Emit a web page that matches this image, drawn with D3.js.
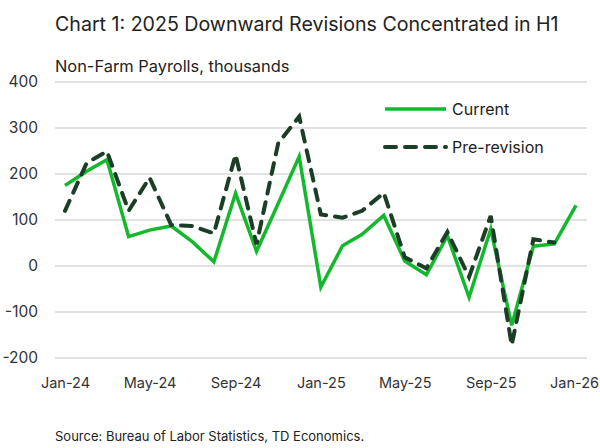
<!DOCTYPE html>
<html>
<head>
<meta charset="utf-8">
<script src="https://cdn.jsdelivr.net/npm/d3@7"></script>
<style>
  body { margin: 0; background: #fff; }
  svg { display: block; font-family: Inter, "Noto Sans", sans-serif; }
</style>
</head>
<body>
<svg id="chart" width="600" height="448"></svg>
<script>
const months = ["2024-01","2024-02","2024-03","2024-04","2024-05","2024-06","2024-07","2024-08","2024-09","2024-10","2024-11","2024-12",
                "2025-01","2025-02","2025-03","2025-04","2025-05","2025-06","2025-07","2025-08","2025-09","2025-10","2025-11","2025-12","2026-01"];
const current = [175, 206, 231, 64, 78, 87, 53, 9, 158, 32, 136, 238,
                 -46, 44, 69, 110, 11, -19, 66, -68, 80, -129, 43, 48, 132];
const preRevision = [120, 224, 249, 120, 192, 89, 87, 71, 242, 47, 267, 325,
                     112, 105, 120, 159, 19, -5, 74, -24, 109, -172, 58, 51, null];
const yTicks = [-200, -100, 0, 100, 200, 300, 400];
const xTickLabels = ["2024-01","2024-05","2024-09","2025-01","2025-05","2025-09","2026-01"];
const seriesNames = ["Current", "Pre-revision"];

const parse = d3.timeParse("%Y-%m");
const dates = months.map(parse);

const svg = d3.select("#chart");
const x = d3.scaleTime().domain([parse("2024-01"), parse("2026-01")]).range([65, 576]);
const y = d3.scaleLinear().domain([-200, 400]).range([358, 82]);

// title
svg.append("text").attr("x", 55).attr("y", 31).attr("font-size", 19.6).attr("fill", "#222")
  .text("Chart 1: 2025 Downward Revisions Concentrated in H1");
svg.append("text").attr("x", 55).attr("y", 72).attr("font-size", 16.4).attr("fill", "#222")
  .text("Non-Farm Payrolls, thousands");

// gridlines
svg.append("g").selectAll("line").data(yTicks).join("line")
  .attr("x1", 55).attr("x2", 587)
  .attr("y1", d => y(d)).attr("y2", d => y(d))
  .attr("stroke", "#d9d9d9").attr("stroke-width", 1.5);

// y axis
const yAxis = svg.append("g").attr("transform", "translate(38,0)")
  .call(d3.axisLeft(y).tickValues(yTicks).tickFormat(d => String(d)).tickSize(0).tickPadding(0));
yAxis.select(".domain").remove();
yAxis.selectAll("text").attr("font-size", 15.5).attr("fill", "#333")
  .attr("font-family", "Inter, 'Noto Sans', sans-serif");

// x axis
const xAxis = svg.append("g").attr("transform", "translate(0,373)")
  .call(d3.axisBottom(x).tickValues(xTickLabels.map(parse)).tickFormat(d3.timeFormat("%b-%y")).tickSize(0).tickPadding(5));
xAxis.select(".domain").remove();
xAxis.selectAll("text").attr("font-size", 14.5).attr("fill", "#333")
  .attr("font-family", "Inter, 'Noto Sans', sans-serif");
xAxis.selectAll(".tick:last-of-type text").attr("dx", -2);

// lines
const lineGen = d3.line().defined(d => d.v !== null).x(d => x(d.date)).y(d => y(d.v));
const curData = dates.map((d, i) => ({date: d, v: current[i]}));
const preData = dates.map((d, i) => ({date: d, v: preRevision[i]}));

svg.append("path").datum(curData).attr("d", lineGen)
  .attr("fill", "none").attr("stroke", "#14b82c").attr("stroke-width", 3.5)
  .attr("stroke-linejoin", "miter");
svg.append("path").datum(preData).attr("d", lineGen)
  .attr("fill", "none").attr("stroke", "#1c3d28").attr("stroke-width", 4)
  .attr("stroke-dasharray", "11,9").attr("stroke-linecap", "round");

// legend
const leg = svg.append("g");
leg.append("line").attr("x1", 385).attr("x2", 446).attr("y1", 109).attr("y2", 109)
  .attr("stroke", "#14b82c").attr("stroke-width", 3.5);
leg.append("text").attr("x", 452).attr("y", 114.5).attr("font-size", 16).attr("fill", "#222").text(seriesNames[0]);
leg.append("line").attr("x1", 385).attr("x2", 446).attr("y1", 147).attr("y2", 147)
  .attr("stroke", "#1c3d28").attr("stroke-width", 4).attr("stroke-dasharray", "11,9").attr("stroke-linecap", "round");
leg.append("text").attr("x", 452).attr("y", 152.5).attr("font-size", 16).attr("fill", "#222").text(seriesNames[1]);

// source
svg.append("text").attr("x", 55).attr("y", 441).attr("font-size", 13).attr("fill", "#222")
  .text("Source: Bureau of Labor Statistics, TD Economics.");
</script>
</body>
</html>
